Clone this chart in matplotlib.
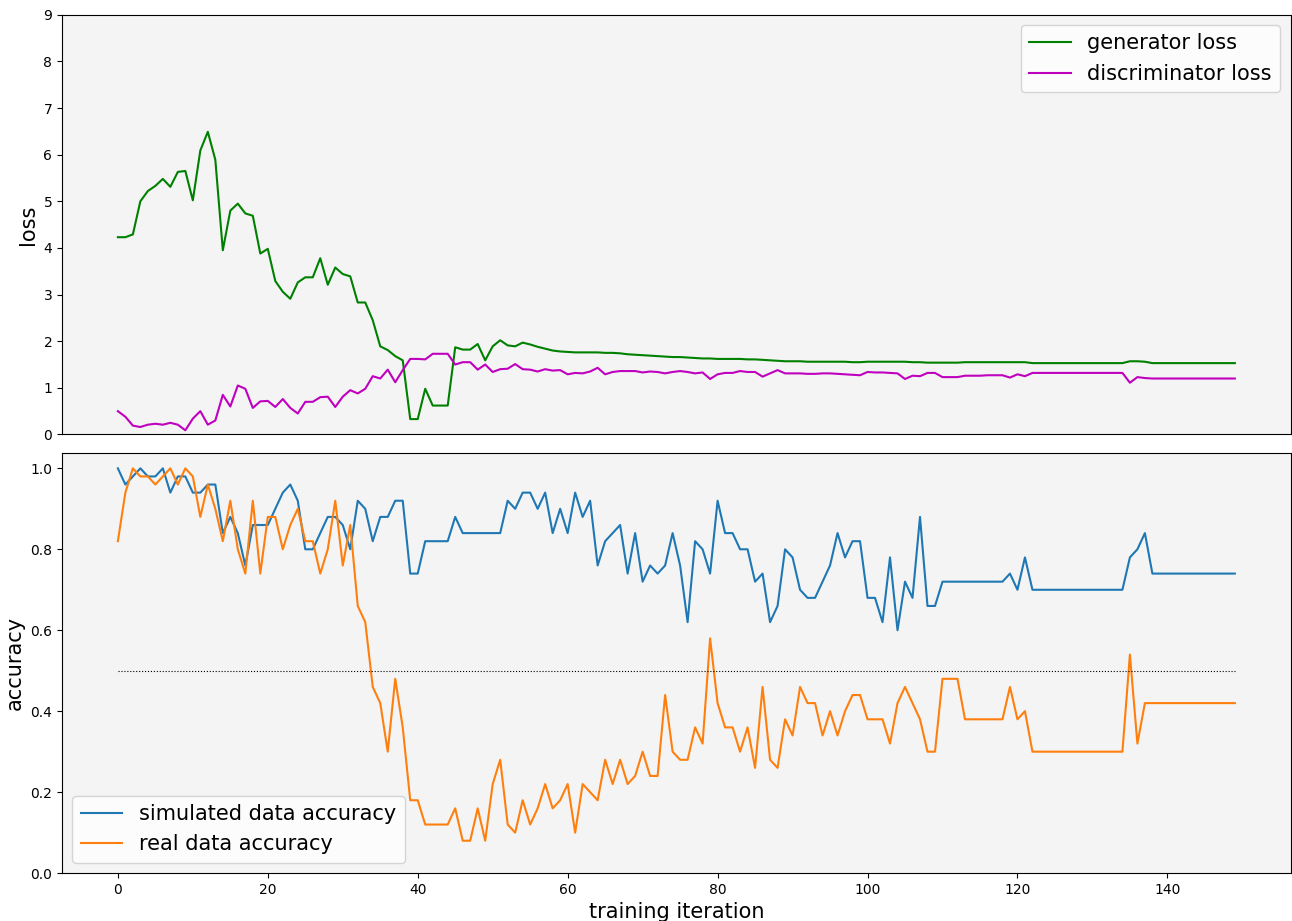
import matplotlib
matplotlib.use("Agg")
import matplotlib.pyplot as plt
import numpy as np

# loss curves (150 training iterations)
generator_loss = [
    4.23, 4.23, 4.29, 5.00, 5.22, 5.33, 5.48, 5.31, 5.63, 5.65,
    5.02, 6.09, 6.49, 5.89, 3.95, 4.80, 4.95, 4.74, 4.69, 3.88,
    3.98, 3.29, 3.06, 2.91, 3.26, 3.37, 3.37, 3.78, 3.21, 3.58,
    3.44, 3.39, 2.83, 2.83, 2.45, 1.89, 1.81, 1.68, 1.59, 0.33,
    0.33, 0.98, 0.62, 0.62, 0.62, 1.87, 1.82, 1.82, 1.94, 1.59,
    1.89, 2.02, 1.91, 1.89, 1.97, 1.93, 1.88, 1.84, 1.80, 1.78,
    1.77, 1.76, 1.76, 1.76, 1.76, 1.75, 1.75, 1.74, 1.72, 1.71,
    1.70, 1.69, 1.68, 1.67, 1.66, 1.66, 1.65, 1.64, 1.63, 1.63,
    1.62, 1.62, 1.62, 1.62, 1.61, 1.61, 1.60, 1.59, 1.58, 1.57,
    1.57, 1.57, 1.56, 1.56, 1.56, 1.56, 1.56, 1.56, 1.55, 1.55,
    1.56, 1.56, 1.56, 1.56, 1.56, 1.56, 1.55, 1.55, 1.54, 1.54,
    1.54, 1.54, 1.54, 1.55, 1.55, 1.55, 1.55, 1.55, 1.55, 1.55,
    1.55, 1.55, 1.53, 1.53, 1.53, 1.53, 1.53, 1.53, 1.53, 1.53,
    1.53, 1.53, 1.53, 1.53, 1.53, 1.57, 1.57, 1.56, 1.53, 1.53,
    1.53, 1.53, 1.53, 1.53, 1.53, 1.53, 1.53, 1.53, 1.53, 1.53,
]
discriminator_loss = [
    0.50, 0.38, 0.19, 0.16, 0.21, 0.23, 0.21, 0.25, 0.21, 0.09,
    0.34, 0.50, 0.21, 0.30, 0.85, 0.60, 1.05, 0.98, 0.57, 0.71,
    0.72, 0.59, 0.76, 0.57, 0.45, 0.70, 0.70, 0.80, 0.81, 0.59,
    0.81, 0.95, 0.88, 0.98, 1.25, 1.20, 1.39, 1.12, 1.38, 1.62,
    1.62, 1.61, 1.73, 1.73, 1.73, 1.50, 1.55, 1.55, 1.39, 1.50,
    1.34, 1.40, 1.41, 1.51, 1.40, 1.39, 1.35, 1.40, 1.37, 1.38,
    1.29, 1.32, 1.31, 1.35, 1.43, 1.29, 1.34, 1.36, 1.36, 1.36,
    1.33, 1.35, 1.34, 1.31, 1.34, 1.36, 1.34, 1.31, 1.33, 1.19,
    1.29, 1.32, 1.32, 1.36, 1.34, 1.34, 1.24, 1.31, 1.38, 1.31,
    1.31, 1.31, 1.30, 1.30, 1.31, 1.31, 1.30, 1.29, 1.28, 1.27,
    1.34, 1.33, 1.33, 1.32, 1.31, 1.19, 1.26, 1.25, 1.32, 1.32,
    1.23, 1.23, 1.23, 1.26, 1.26, 1.26, 1.27, 1.27, 1.27, 1.22,
    1.29, 1.25, 1.32, 1.32, 1.32, 1.32, 1.32, 1.32, 1.32, 1.32,
    1.32, 1.32, 1.32, 1.32, 1.32, 1.11, 1.23, 1.21, 1.20, 1.20,
    1.20, 1.20, 1.20, 1.20, 1.20, 1.20, 1.20, 1.20, 1.20, 1.20,
]

# accuracy curves
sim_accuracy = [
    1.00, 0.96, 0.98, 1.00, 0.98, 0.98, 1.00, 0.94, 0.98, 0.98,
    0.94, 0.94, 0.96, 0.96, 0.84, 0.88, 0.84, 0.76, 0.86, 0.86,
    0.86, 0.90, 0.94, 0.96, 0.92, 0.80, 0.80, 0.84, 0.88, 0.88,
    0.86, 0.80, 0.92, 0.90, 0.82, 0.88, 0.88, 0.92, 0.92, 0.74,
    0.74, 0.82, 0.82, 0.82, 0.82, 0.88, 0.84, 0.84, 0.84, 0.84,
    0.84, 0.84, 0.92, 0.90, 0.94, 0.94, 0.90, 0.94, 0.84, 0.90,
    0.84, 0.94, 0.88, 0.92, 0.76, 0.82, 0.84, 0.86, 0.74, 0.84,
    0.72, 0.76, 0.74, 0.76, 0.84, 0.76, 0.62, 0.82, 0.80, 0.74,
    0.92, 0.84, 0.84, 0.80, 0.80, 0.72, 0.74, 0.62, 0.66, 0.80,
    0.78, 0.70, 0.68, 0.68, 0.72, 0.76, 0.84, 0.78, 0.82, 0.82,
    0.68, 0.68, 0.62, 0.78, 0.60, 0.72, 0.68, 0.88, 0.66, 0.66,
    0.72, 0.72, 0.72, 0.72, 0.72, 0.72, 0.72, 0.72, 0.72, 0.74,
    0.70, 0.78, 0.70, 0.70, 0.70, 0.70, 0.70, 0.70, 0.70, 0.70,
    0.70, 0.70, 0.70, 0.70, 0.70, 0.78, 0.80, 0.84, 0.74, 0.74,
    0.74, 0.74, 0.74, 0.74, 0.74, 0.74, 0.74, 0.74, 0.74, 0.74,
]
real_accuracy = [
    0.82, 0.94, 1.00, 0.98, 0.98, 0.96, 0.98, 1.00, 0.96, 1.00,
    0.98, 0.88, 0.96, 0.90, 0.82, 0.92, 0.80, 0.74, 0.92, 0.74,
    0.88, 0.88, 0.80, 0.86, 0.90, 0.82, 0.82, 0.74, 0.80, 0.92,
    0.76, 0.86, 0.66, 0.62, 0.46, 0.42, 0.30, 0.48, 0.36, 0.18,
    0.18, 0.12, 0.12, 0.12, 0.12, 0.16, 0.08, 0.08, 0.16, 0.08,
    0.22, 0.28, 0.12, 0.10, 0.18, 0.12, 0.16, 0.22, 0.16, 0.18,
    0.22, 0.10, 0.22, 0.20, 0.18, 0.28, 0.22, 0.28, 0.22, 0.24,
    0.30, 0.24, 0.24, 0.44, 0.30, 0.28, 0.28, 0.36, 0.32, 0.58,
    0.42, 0.36, 0.36, 0.30, 0.36, 0.26, 0.46, 0.28, 0.26, 0.38,
    0.34, 0.46, 0.42, 0.42, 0.34, 0.40, 0.34, 0.40, 0.44, 0.44,
    0.38, 0.38, 0.38, 0.32, 0.42, 0.46, 0.42, 0.38, 0.30, 0.30,
    0.48, 0.48, 0.48, 0.38, 0.38, 0.38, 0.38, 0.38, 0.38, 0.46,
    0.38, 0.40, 0.30, 0.30, 0.30, 0.30, 0.30, 0.30, 0.30, 0.30,
    0.30, 0.30, 0.30, 0.30, 0.30, 0.54, 0.32, 0.42, 0.42, 0.42,
    0.42, 0.42, 0.42, 0.42, 0.42, 0.42, 0.42, 0.42, 0.42, 0.42,
]

iterations = np.arange(len(generator_loss))

fig, (ax1, ax2) = plt.subplots(2, 1, figsize=(12.92, 9.21), dpi=100, sharex=True)
fig.subplots_adjust(left=0.048, right=0.999, top=0.984, bottom=0.052, hspace=0.045)

ax1.set_facecolor("#f4f4f4")
ax1.plot(iterations, generator_loss, color="green", label="generator loss")
ax1.plot(iterations, discriminator_loss, color="m", label="discriminator loss")
ax1.set_ylim(0, 9)
ax1.set_ylabel("loss", fontsize=15)
ax1.tick_params(axis="x", bottom=False)
ax1.legend(loc="upper right", fontsize=15)

ax2.set_facecolor("#f4f4f4")
ax2.plot(iterations, sim_accuracy, color="tab:blue", label="simulated data accuracy")
ax2.plot(iterations, real_accuracy, color="tab:orange", label="real data accuracy")
ax2.plot(iterations, [0.5] * len(iterations), color="black", linestyle=":", linewidth=0.8)
ax2.set_ylim(0, 1.037)
ax2.set_ylabel("accuracy", fontsize=15)
ax2.set_xlabel("training iteration", fontsize=15)
ax2.legend(loc="lower left", fontsize=15)

fig.savefig("out.png")
